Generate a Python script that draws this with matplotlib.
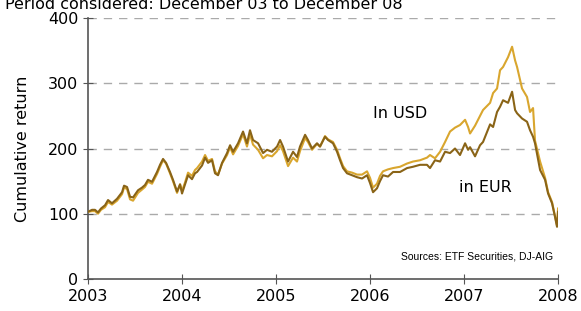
import matplotlib

matplotlib.use("Agg")
import matplotlib.pyplot as plt

# Values (index, start = 100)
dates = [
    2003.000, 2003.043, 2003.074, 2003.106, 2003.138, 2003.181, 2003.213, 2003.255,
    2003.309, 2003.362, 2003.383, 2003.415, 2003.447, 2003.479, 2003.532, 2003.574,
    2003.606, 2003.638, 2003.681, 2003.734, 2003.766, 2003.798, 2003.830, 2003.872,
    2003.904, 2003.947, 2003.979, 2004.000, 2004.032, 2004.064, 2004.106, 2004.138,
    2004.160, 2004.213, 2004.245, 2004.277, 2004.319, 2004.351, 2004.383, 2004.426,
    2004.479, 2004.511, 2004.543, 2004.596, 2004.649, 2004.691, 2004.723, 2004.755,
    2004.809, 2004.862, 2004.904, 2004.957, 2005.011, 2005.043, 2005.074, 2005.128,
    2005.181, 2005.223, 2005.255, 2005.309, 2005.340, 2005.383, 2005.436, 2005.468,
    2005.521, 2005.553, 2005.606, 2005.649, 2005.681, 2005.713, 2005.755, 2005.809,
    2005.862, 2005.915, 2005.968, 2006.000, 2006.032, 2006.074, 2006.106, 2006.138,
    2006.191, 2006.245, 2006.319, 2006.394, 2006.457, 2006.532, 2006.606, 2006.638,
    2006.691, 2006.745, 2006.798, 2006.851, 2006.904, 2006.957, 2007.011, 2007.043,
    2007.064, 2007.117, 2007.170, 2007.202, 2007.277, 2007.309, 2007.351, 2007.383,
    2007.415, 2007.468, 2007.511, 2007.543, 2007.564, 2007.617, 2007.670, 2007.702,
    2007.734, 2007.755, 2007.809, 2007.862, 2007.894, 2007.936, 2007.968, 2007.989,
    2008.000,
]

eur = [
    103, 106, 106, 102, 108, 113, 121, 116,
    123, 133, 143, 141, 126, 125, 136, 140,
    144, 152, 149, 164, 175, 184, 178, 164,
    152, 134, 145, 131, 145, 159, 153, 162,
    164, 174, 186, 178, 182, 162, 159, 178,
    193, 205, 195, 208, 226, 208, 228, 213,
    208, 193, 198, 195, 203, 213, 203, 180,
    195, 187, 203, 221, 213, 200, 208, 203,
    218, 213, 208, 195, 182, 170, 162, 159,
    156, 154, 159, 147, 133, 139, 150, 159,
    157, 164, 164, 170, 172, 175, 175, 170,
    182, 180, 195, 193, 200, 190, 208, 198,
    202, 188, 205, 210, 237, 233, 256, 264,
    274, 270, 287, 259, 254, 246, 241, 228,
    218, 208, 167, 152, 131, 116, 95, 80,
    103,
]

usd = [
    103, 104, 104, 100, 106, 110, 118, 114,
    120, 130, 140, 138, 122, 120, 132, 137,
    141, 149, 146, 161, 172, 182, 177, 162,
    150, 132, 145, 135, 148, 163, 158, 167,
    170, 180, 190, 181, 184, 165, 160, 177,
    190, 202, 191, 204, 222, 203, 222, 206,
    198, 185, 190, 188, 196, 205, 196, 173,
    186, 180, 196, 216, 210, 198, 207, 203,
    219, 214, 210, 198, 185, 173, 165, 163,
    160, 160, 165, 155, 140, 146, 158, 165,
    168, 170, 172, 177, 180, 182, 186, 190,
    185, 195, 210, 226, 232, 236, 244, 233,
    223, 235, 250, 259, 270, 285, 292, 320,
    325, 340, 356, 335, 325, 292, 279, 256,
    262, 212, 180, 155, 133, 118, 96, 82,
    108,
]

year_ticks = [2003, 2004, 2005, 2006, 2007, 2008]
value_ticks = [0, 100, 200, 300, 400]

fig = plt.figure(figsize=(5.81, 3.11), dpi=100)
ax = fig.add_axes([0.1515, 0.103, 0.809, 0.839])

ax.plot(dates, usd, color="#D9A62E", linewidth=1.5, zorder=3)
ax.plot(dates, eur, color="#8A6417", linewidth=1.5, zorder=4)

ax.set_xlim(2003, 2008)
ax.set_ylim(0, 400)
ax.set_xticks(year_ticks)
ax.set_yticks(value_ticks)
ax.tick_params(labelsize=11.5, direction="inout", length=7, color="#555555")

for v in value_ticks[1:]:
    ax.axhline(v, color="#AAAAAA", linewidth=1.0, dashes=(6, 5), zorder=1)

for side in ["top", "right"]:
    ax.spines[side].set_visible(False)
for side in ["left", "bottom"]:
    ax.spines[side].set_color("#555555")
    ax.spines[side].set_linewidth(1.2)

ax.set_ylabel("Cumulative return", fontsize=11.5, labelpad=13)

ax.text(2006.03, 247, "In USD", fontsize=11.5)
ax.text(2006.95, 133, "in EUR", fontsize=11.5)
ax.text(2007.95, 30, "Sources: ETF Securities, DJ-AIG", fontsize=7.5,
        family="Liberation Sans", ha="right")

fig.text(0.008, 0.985, "Period considered: December 03 to December 08",
         fontsize=11.5, va="center", ha="left")

fig.savefig("out.png", dpi=100)
